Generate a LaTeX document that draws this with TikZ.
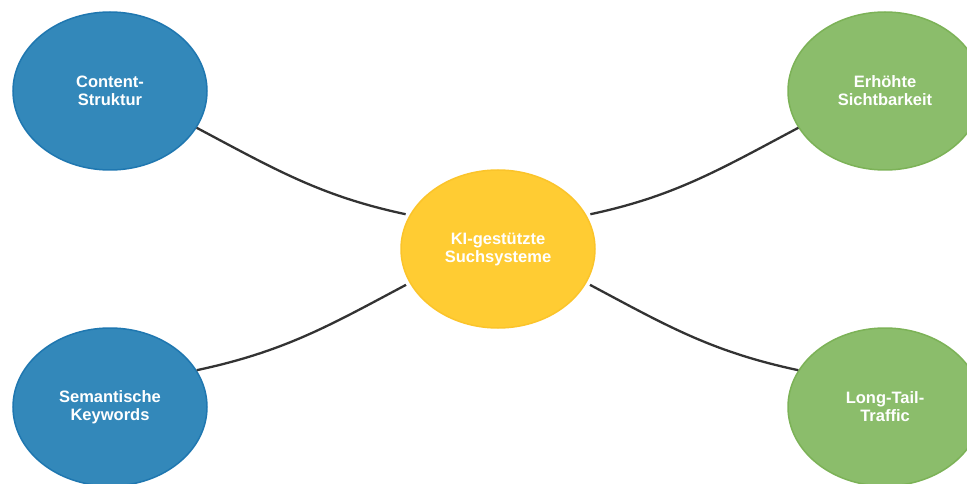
\documentclass[tikz,border=0pt]{standalone}
\usepackage{fontspec}
\setmainfont{Liberation Sans}
\usetikzlibrary{shapes.geometric}
\definecolor{blaufill}{HTML}{3388BA}
\definecolor{blaurand}{HTML}{1F77B0}
\definecolor{gelbfill}{HTML}{FFCC33}
\definecolor{gelbrand}{HTML}{FBC42A}
\definecolor{gruenfill}{HTML}{8BBD6B}
\definecolor{gruenrand}{HTML}{7CB257}
\definecolor{linie}{HTML}{333333}
\begin{document}
\begin{tikzpicture}[x=1pt,y=-1pt,
            blase/.style = {
                ellipse,
                minimum width = 194pt,
                minimum height = 158pt,
                line width = 1.5pt,
                align = center,
                text = white,
                font = \fontsize{16.5}{18}\selectfont\bfseries
            },
            verbindung/.style = {
                draw = linie,
                line width = 2.3pt
            }
        ]
            \useasboundingbox (0,0) rectangle (967,484);
            \node[blase, fill = blaufill, draw = blaurand] (struktur) at (110,91) {Content-\\Struktur};
            \node[blase, fill = blaufill, draw = blaurand] (keywords) at (110,407) {Semantische\\Keywords};
            \node[blase, fill = gelbfill, draw = gelbrand] (ki) at (498,249) {KI-gestützte\\Suchsysteme};
            \node[blase, fill = gruenfill, draw = gruenrand] (sicht) at (885,91) {Erhöhte\\Sichtbarkeit};
            \node[blase, fill = gruenfill, draw = gruenrand] (traffic) at (885,407) {Long-Tail-\\Traffic};
            \draw[verbindung, shorten >=4pt] (struktur.-23) to[out=-28, in=168] (ki.159);
            \draw[verbindung, shorten <=4pt] (ki.21) to[out=12, in=-152] (sicht.203);
            \draw[verbindung, shorten >=4pt] (keywords.23) to[out=12, in=-152] (ki.201);
            \draw[verbindung, shorten <=4pt] (ki.-21) to[out=-28, in=168] (traffic.157);
        \end{tikzpicture}
\end{document}
